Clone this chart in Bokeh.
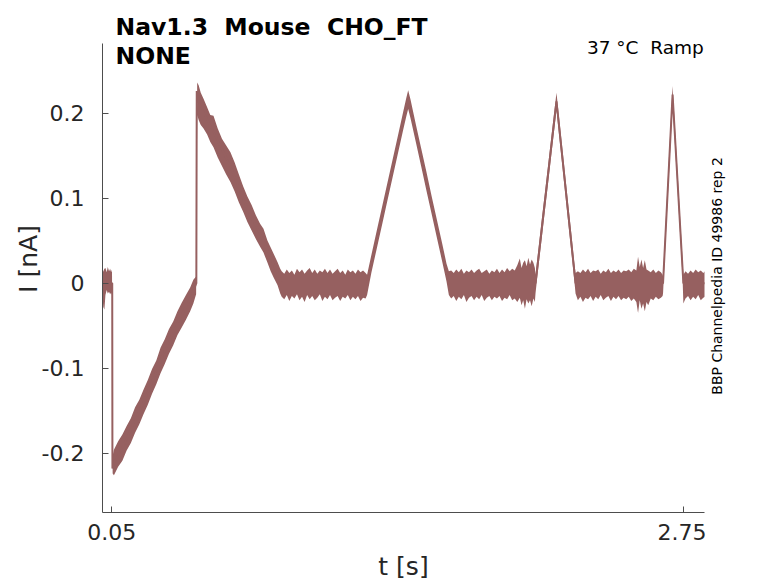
import math
from bokeh.plotting import figure
from bokeh.layouts import row
from bokeh.models import Range1d, FixedTicker, Label
from bokeh.embed import file_html
from bokeh.resources import INLINE

# ---- data (time in s, current in nA) ----
# noisy band: lower / upper envelope of the recorded trace
env_t = [0.005, 0.010, 0.015, 0.020, 0.026, 0.031, 0.037, 0.042, 0.047, 0.051,
         0.054, 0.060, 0.080, 0.100, 0.120, 0.140, 0.160, 0.180, 0.200, 0.220,
         0.240, 0.260, 0.280, 0.300, 0.320, 0.340, 0.360, 0.380, 0.400, 0.420,
         0.435, 0.448,
         0.453, 0.460, 0.470, 0.483, 0.500, 0.515, 0.530, 0.550, 0.570, 0.590,
         0.610, 0.630, 0.650, 0.670, 0.690, 0.710, 0.730, 0.750, 0.766, 0.785,
         0.800, 0.815, 0.832, 0.845,
         0.852, 0.864, 0.876, 0.888, 0.900, 0.912, 0.924, 0.936, 0.948, 0.960,
         0.972, 0.984, 0.996, 1.008, 1.020, 1.032, 1.044, 1.056, 1.068, 1.080,
         1.092, 1.104, 1.116, 1.128, 1.140, 1.152, 1.164, 1.176, 1.188, 1.200,
         1.212, 1.224, 1.236, 1.248,
         1.255, 1.275, 1.300, 1.325, 1.350, 1.375, 1.400, 1.425, 1.440, 1.449,
         1.460, 1.485, 1.510, 1.535, 1.560, 1.585, 1.610, 1.630, 1.641,
         1.652, 1.664, 1.676, 1.688, 1.700, 1.712, 1.724, 1.736, 1.748, 1.760,
         1.772, 1.784, 1.796, 1.808, 1.820, 1.832, 1.844, 1.856, 1.868, 1.880,
         1.892, 1.904, 1.916, 1.928, 1.940, 1.952, 1.964, 1.976, 1.984, 1.992,
         2.000, 2.008, 2.016, 2.024, 2.032, 2.040, 2.047,
         2.050, 2.065, 2.080, 2.095, 2.110, 2.125, 2.140, 2.149,
         2.160, 2.175, 2.190, 2.205, 2.220, 2.232, 2.239,
         2.250, 2.262, 2.274, 2.286, 2.298, 2.310, 2.322, 2.334, 2.346, 2.358,
         2.370, 2.382, 2.394, 2.406, 2.418, 2.430, 2.442, 2.454, 2.466, 2.478,
         2.490, 2.502, 2.514, 2.526, 2.534, 2.542, 2.550, 2.558, 2.566, 2.574,
         2.582, 2.594, 2.606, 2.618, 2.630, 2.642, 2.650,
         2.652, 2.665, 2.680, 2.690, 2.697,
         2.705, 2.720, 2.735, 2.744, 2.748,
         2.758, 2.770, 2.782, 2.794, 2.806, 2.818, 2.830, 2.842, 2.850]
env_lo = [-0.012, -0.028, -0.031, -0.014, -0.008, -0.012, -0.010, -0.013, -0.011, -0.014,
          -0.224, -0.226, -0.216, -0.209, -0.197, -0.188, -0.176, -0.166, -0.154, -0.143,
          -0.130, -0.119, -0.106, -0.095, -0.083, -0.073, -0.061, -0.052, -0.043, -0.033,
          -0.024, -0.013,
          0.198, 0.192, 0.186, 0.182, 0.175, 0.166, 0.160, 0.148, 0.138, 0.128,
          0.119, 0.108, 0.095, 0.084, 0.072, 0.062, 0.052, 0.043, 0.036, 0.024,
          0.014, 0.006, -0.002, -0.012,
          -0.016, -0.019, -0.014, -0.021, -0.015, -0.018, -0.013, -0.020, -0.016, -0.022,
          -0.014, -0.019, -0.015, -0.020, -0.017, -0.013, -0.021, -0.016, -0.019, -0.014,
          -0.020, -0.017, -0.015, -0.021, -0.016, -0.018, -0.014, -0.020, -0.016, -0.019,
          -0.015, -0.021, -0.017, -0.018,
          -0.014, 0.012, 0.040, 0.068, 0.096, 0.124, 0.152, 0.180, 0.196, 0.205,
          0.194, 0.166, 0.138, 0.109, 0.081, 0.053, 0.025, 0.002, -0.014,
          -0.018, -0.015, -0.021, -0.016, -0.019, -0.014, -0.022, -0.017, -0.015, -0.020,
          -0.016, -0.019, -0.014, -0.021, -0.017, -0.015, -0.020, -0.016, -0.018, -0.015,
          -0.021, -0.017, -0.019, -0.014, -0.020, -0.018, -0.022, -0.017, -0.026, -0.020,
          -0.030, -0.019, -0.024, -0.020, -0.027, -0.018, -0.022,
          -0.012, 0.022, 0.054, 0.087, 0.119, 0.152, 0.184, 0.204,
          0.177, 0.142, 0.106, 0.070, 0.035, 0.006, -0.012,
          -0.020, -0.016, -0.022, -0.017, -0.019, -0.015, -0.021, -0.016, -0.019, -0.014,
          -0.020, -0.017, -0.015, -0.021, -0.016, -0.019, -0.015, -0.020, -0.017, -0.019,
          -0.016, -0.021, -0.018, -0.022, -0.035, -0.020, -0.030, -0.024, -0.033, -0.022,
          -0.026, -0.018, -0.020, -0.016, -0.019, -0.017, -0.015,
          -0.012, 0.054, 0.128, 0.177, 0.212,
          0.177, 0.112, 0.046, 0.007, -0.024,
          -0.018, -0.015, -0.020, -0.016, -0.019, -0.014, -0.020, -0.017, -0.016]
env_hi = [0.012, 0.014, 0.017, 0.018, 0.013, 0.019, 0.014, 0.017, 0.013, 0.016,
          -0.203, -0.196, -0.186, -0.178, -0.168, -0.159, -0.146, -0.137, -0.125, -0.114,
          -0.101, -0.091, -0.076, -0.066, -0.054, -0.045, -0.033, -0.023, -0.014, -0.005,
          0.004, 0.008,
          0.236, 0.233, 0.224, 0.217, 0.207, 0.198, 0.197, 0.182, 0.170, 0.162,
          0.154, 0.142, 0.128, 0.114, 0.102, 0.092, 0.080, 0.070, 0.064, 0.050,
          0.042, 0.034, 0.025, 0.017,
          0.014, 0.011, 0.016, 0.012, 0.015, 0.010, 0.017, 0.013, 0.016, 0.011,
          0.015, 0.018, 0.012, 0.016, 0.011, 0.015, 0.013, 0.017, 0.012, 0.016,
          0.011, 0.014, 0.017, 0.012, 0.015, 0.010, 0.016, 0.013, 0.015, 0.011,
          0.016, 0.013, 0.015, 0.012,
          0.010, 0.033, 0.061, 0.089, 0.117, 0.145, 0.173, 0.201, 0.218, 0.227,
          0.216, 0.187, 0.159, 0.131, 0.102, 0.074, 0.046, 0.023, 0.014,
          0.015, 0.012, 0.016, 0.013, 0.017, 0.011, 0.015, 0.013, 0.016, 0.012,
          0.015, 0.017, 0.012, 0.014, 0.016, 0.011, 0.015, 0.013, 0.017, 0.012,
          0.016, 0.013, 0.018, 0.014, 0.017, 0.015, 0.021, 0.029, 0.018, 0.024,
          0.027, 0.020, 0.030, 0.022, 0.028, 0.024, 0.018,
          0.010, 0.043, 0.076, 0.108, 0.140, 0.173, 0.205, 0.224,
          0.198, 0.163, 0.127, 0.091, 0.056, 0.027, 0.012,
          0.014, 0.012, 0.016, 0.013, 0.017, 0.012, 0.015, 0.014, 0.016, 0.011,
          0.015, 0.013, 0.017, 0.012, 0.015, 0.013, 0.016, 0.012, 0.015, 0.014,
          0.016, 0.013, 0.017, 0.015, 0.031, 0.019, 0.028, 0.018, 0.027, 0.016,
          0.015, 0.013, 0.016, 0.012, 0.015, 0.013, 0.010,
          0.008, 0.075, 0.149, 0.198, 0.232,
          0.198, 0.133, 0.067, 0.028, 0.010,
          0.014, 0.011, 0.015, 0.012, 0.016, 0.013, 0.015, 0.012, 0.014]

# centre path of the trace (key points)
trace_t = [0.005, 0.052, 0.053, 0.063, 0.115, 0.209, 0.303, 0.374, 0.422, 0.449,
           0.451, 0.460, 0.530, 0.610, 0.690, 0.766, 0.832, 0.851, 1.255, 1.449,
           1.641, 2.050, 2.149, 2.239, 2.652, 2.697, 2.748, 2.852]
trace_i = [0.0, 0.0, -0.218, -0.211, -0.186, -0.135, -0.078, -0.040, -0.018, 0.0,
           0.226, 0.213, 0.178, 0.137, 0.087, 0.050, 0.012, 0.0, 0.0, 0.217,
           0.0, 0.0, 0.214, 0.0, 0.0, 0.222, 0.0, 0.0]

x_ticks = [0.05, 2.75]
x_tick_labels = ["0.05", "2.75"]
y_ticks = [-0.2, -0.1, 0.0, 0.1, 0.2]
y_tick_labels = ["-0.2", "-0.1", "0", "0.1", "0.2"]

y_axis_span = (-0.270, 0.2816)

title_line1 = "Nav1.3\u00a0 Mouse\u00a0 CHO_FT"
title_line2 = "NONE"
cond_text = "37 \u00b0C\u00a0 Ramp"
side_text = "BBP Channelpedia ID 49986 rep 2"

COLOR = "#966060"
FONT = "DejaVu Sans"
AXC = "#4d4d4d"
TXT = "#262626"

# main plot: frame spans the axes horizontally, and extends above the
# y axis so that the title texts are not clipped
p = figure(width=706, height=583, output_backend="svg", toolbar_location=None,
           x_range=Range1d(0.0061, 2.8477), y_range=Range1d(-0.2698, 0.3267),
           min_border_left=102, min_border_right=2, min_border_top=5,
           min_border_bottom=71)
p.outline_line_color = None
p.xgrid.visible = False
p.ygrid.visible = False
p.background_fill_color = "white"
p.border_fill_color = "white"

p.varea(x=env_t, y1=env_lo, y2=env_hi, fill_color=COLOR, fill_alpha=1.0)
p.line(trace_t, trace_i, line_color=COLOR, line_width=2)

for ax in (p.xaxis[0], p.yaxis[0]):
    ax.axis_line_color = AXC
    ax.major_tick_line_color = AXC
    ax.minor_tick_line_color = None
    ax.major_tick_in = 6
    ax.major_tick_out = 0
    ax.major_label_text_font = FONT
    ax.major_label_text_font_size = "22px"
    ax.major_label_text_color = TXT
    ax.axis_label_text_font = FONT
    ax.axis_label_text_font_size = "25px"
    ax.axis_label_text_font_style = "normal"
    ax.axis_label_text_color = TXT

p.xaxis.ticker = FixedTicker(ticks=x_ticks)
p.xaxis.major_label_overrides = dict(zip(x_ticks, x_tick_labels))
p.xaxis.axis_label = "t [s]"
p.xaxis.major_label_standoff = 11
p.xaxis.axis_label_standoff = 9

p.yaxis.ticker = FixedTicker(ticks=y_ticks)
p.yaxis.major_label_overrides = dict(zip(y_ticks, y_tick_labels))
p.yaxis.axis_label = "I [nA]"
p.yaxis.bounds = y_axis_span
p.yaxis.major_label_standoff = 18
p.yaxis.axis_label_standoff = -4

p.add_layout(Label(x=0.0675, y=0.3012, text=title_line1, text_font=FONT,
                   text_font_style="bold", text_font_size="23.5px",
                   text_color="black", text_baseline="alphabetic",
                   text_align="left"))
p.add_layout(Label(x=0.0675, y=0.2667, text=title_line2, text_font=FONT,
                   text_font_style="bold", text_font_size="23.5px",
                   text_color="black", text_baseline="alphabetic",
                   text_align="left"))
p.add_layout(Label(x=2.8444, y=0.2769, text=cond_text, text_font=FONT,
                   text_font_size="18.5px", text_color="black",
                   text_baseline="alphabetic", text_align="right"))

# narrow strip on the right holding the vertical source note (pixel units)
s = figure(width=30, height=583, output_backend="svg", toolbar_location=None,
           x_range=Range1d(0, 30), y_range=Range1d(0, 583),
           x_axis_type=None, y_axis_type=None, min_border=0)
s.outline_line_color = None
s.xgrid.visible = False
s.ygrid.visible = False
s.add_layout(Label(x=10.5, y=272, text=side_text, text_font=FONT,
                   text_font_size="14px", text_color="black",
                   angle=math.pi / 2, text_baseline="middle",
                   text_align="center"))

layout = row(p, s)
open("out.html", "w").write(file_html(layout, INLINE))
